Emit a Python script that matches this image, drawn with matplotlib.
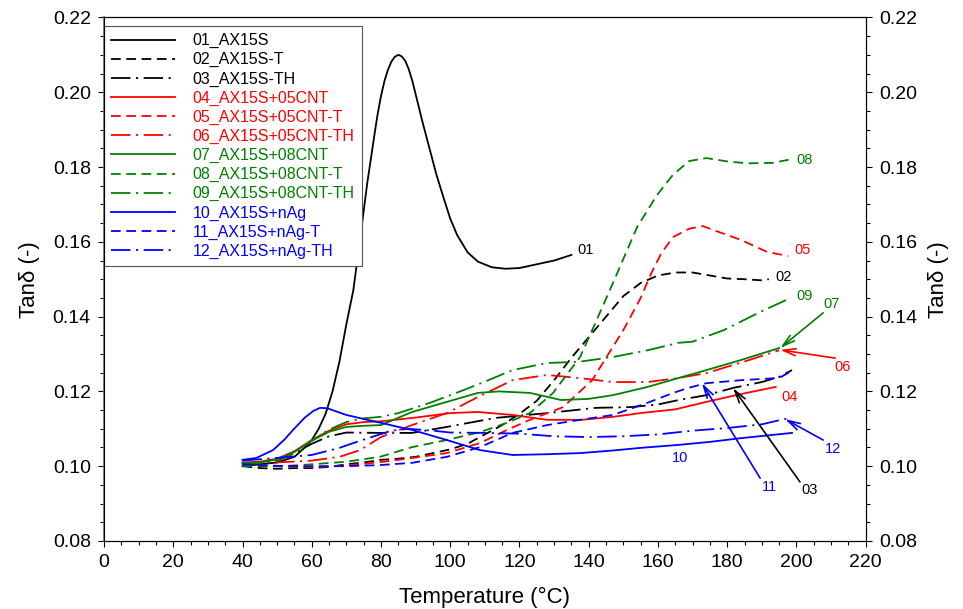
import numpy as np
import matplotlib
matplotlib.use('Agg')
import matplotlib.pyplot as plt

plt.rcParams['font.family'] = ['Liberation Sans', 'DejaVu Sans']
plt.rcParams['lines.scale_dashes'] = False

# ---- data (temperature in degC, tan delta) ----
x01 = [40, 45, 50, 55, 58, 60, 62, 64, 66, 68, 70, 72, 74, 76, 78, 79, 80, 81, 82, 83, 84, 85, 86, 87,
       88, 89, 90, 92, 94, 96, 98, 100, 102, 105, 108, 112, 116, 120, 125, 130, 135]
y01 = [0.1000, 0.1005, 0.1010, 0.1025, 0.1050, 0.1070, 0.1100, 0.1140, 0.1200, 0.1280, 0.1380, 0.1470,
       0.1610, 0.1755, 0.1880, 0.1940, 0.1990, 0.2030, 0.2060, 0.2082, 0.2095, 0.2100, 0.2096, 0.2084,
       0.2062, 0.2032, 0.1995, 0.1920, 0.1850, 0.1780, 0.1720, 0.1662, 0.1618, 0.1572, 0.1547, 0.1532,
       0.1528, 0.1530, 0.1540, 0.1550, 0.1565]

x02 = [40, 45, 50, 55, 60, 65, 70, 75, 80, 85, 90, 95, 100, 105, 110, 115, 120, 125, 130, 135, 140,
       145, 150, 155, 160, 165, 170, 175, 180, 185, 190, 192]
y02 = [0.1000, 0.0995, 0.0993, 0.0995, 0.0995, 0.0998, 0.1005, 0.1010, 0.1017, 0.1020, 0.1025, 0.1035,
       0.1045, 0.1060, 0.1085, 0.1110, 0.1140, 0.1175, 0.1230, 0.1290, 0.1345, 0.1400, 0.1455, 0.1490,
       0.1510, 0.1518, 0.1518, 0.1510, 0.1502, 0.1500, 0.1497, 0.1500]

x03 = [40, 45, 50, 55, 60, 65, 70, 80, 89, 99, 113, 128, 142, 152, 160, 166, 174, 182, 190, 195, 198.7]
y03 = [0.1005, 0.1008, 0.1015, 0.1035, 0.1060, 0.1080, 0.1090, 0.1089, 0.1089, 0.1105, 0.1129, 0.1142,
       0.1156, 0.1158, 0.1165, 0.1177, 0.1190, 0.1210, 0.1225, 0.1239, 0.1257]

x04 = [40, 45, 50, 55, 60, 65, 70, 75, 80, 90, 100, 108, 118, 128, 138, 147, 155, 165, 174, 184, 194]
y04 = [0.1010, 0.1012, 0.1020, 0.1040, 0.1070, 0.1095, 0.1112, 0.1118, 0.1120, 0.1130, 0.1142, 0.1145,
       0.1137, 0.1124, 0.1124, 0.1132, 0.1142, 0.1152, 0.1172, 0.1193, 0.1212]

x05 = [40, 45, 50, 55, 60, 65, 70, 80, 89, 99, 108.6, 116.4, 123, 132.6, 141, 145, 150, 155, 158, 161,
       164.4, 169, 173, 178, 184, 191.5, 197.6]
y05 = [0.1005, 0.1003, 0.1000, 0.0998, 0.0998, 0.0999, 0.1002, 0.1011, 0.1022, 0.1035, 0.1062, 0.1097,
       0.1124, 0.1158, 0.1230, 0.1290, 0.1364, 0.1450, 0.1515, 0.1570, 0.1613, 0.1635, 0.1642, 0.1625,
       0.1605, 0.1573, 0.1562]

x06 = [40, 50, 60, 68, 74, 80, 89, 99, 108, 118, 128, 137, 147, 157, 166, 174, 185, 195]
y06 = [0.1008, 0.1010, 0.1015, 0.1025, 0.1043, 0.1078, 0.1110, 0.1142, 0.1185, 0.1230, 0.1244, 0.1236,
       0.1225, 0.1225, 0.1236, 0.1249, 0.1280, 0.1310]

x07 = [40, 45, 50, 55, 60, 65, 70, 75, 80, 89, 99, 108, 114, 123, 132, 140, 147, 157, 166, 174, 184, 195]
y07 = [0.1008, 0.1010, 0.1018, 0.1038, 0.1068, 0.1092, 0.1105, 0.1108, 0.1110, 0.1145, 0.1172, 0.1196,
       0.1200, 0.1196, 0.1177, 0.1180, 0.1190, 0.1212, 0.1236, 0.1257, 0.1284, 0.1316]

x08 = [40, 45, 50, 55, 60, 70, 79.7, 89, 99, 108.6, 116.4, 123, 129.7, 137.5, 141, 147, 154, 159.7,
       164.4, 169, 174, 180, 186, 193, 198]
y08 = [0.1000, 0.1000, 0.1000, 0.1002, 0.1005, 0.1012, 0.1025, 0.1051, 0.1070, 0.1091, 0.1116, 0.1142,
       0.1196, 0.1292, 0.1364, 0.1490, 0.1640, 0.1725, 0.1780, 0.1816, 0.1824, 0.1815, 0.1810, 0.1811,
       0.1820]

x09 = [40, 45, 50, 55, 60, 65, 70, 75, 80, 85, 94, 104, 111, 118, 128, 137, 147, 157, 166, 170, 179,
       189, 197.6]
y09 = [0.1005, 0.1008, 0.1015, 0.1035, 0.1068, 0.1098, 0.1118, 0.1128, 0.1132, 0.1142, 0.1169, 0.1204,
       0.1230, 0.1257, 0.1276, 0.1279, 0.1292, 0.1310, 0.1330, 0.1333, 0.1364, 0.1410, 0.1447]

x10 = [40, 44, 48.8, 52, 54.6, 58, 60.5, 62.4, 64.5, 66, 70, 76, 80, 85, 89, 99, 108.6, 118, 128, 137.5,
       147, 155, 166, 175, 184, 198.7]
y10 = [0.1017, 0.1022, 0.1043, 0.1070, 0.1097, 0.1130, 0.1148, 0.1156, 0.1155, 0.1150, 0.1137, 0.1124,
       0.1116, 0.1105, 0.1097, 0.1070, 0.1043, 0.1030, 0.1032, 0.1035, 0.1042, 0.1049, 0.1057, 0.1065,
       0.1075, 0.1089]

x11 = [40, 45, 50, 60, 70, 79.7, 89, 99, 108.6, 118, 128, 137.5, 147, 156.8, 164.4, 169, 174, 184, 195,
       198.7]
y11 = [0.1005, 0.1003, 0.1001, 0.1000, 0.1000, 0.1003, 0.1009, 0.1025, 0.1051, 0.1089, 0.1110, 0.1124,
       0.1137, 0.1169, 0.1196, 0.1210, 0.1222, 0.1230, 0.1236, 0.1255]

x12 = [40, 50, 60, 68, 73, 78, 83, 88, 95, 100, 110, 120, 130, 140, 150, 160, 170, 180, 190, 196, 198.7]
y12 = [0.1015, 0.1022, 0.1030, 0.1049, 0.1065, 0.1080, 0.1095, 0.1100, 0.1095, 0.1090, 0.1089, 0.1087,
       0.1080, 0.1078, 0.1080, 0.1085, 0.1095, 0.1102, 0.1112, 0.1125, 0.1129]

labels = ['01_AX15S', '02_AX15S-T', '03_AX15S-TH',
          '04_AX15S+05CNT', '05_AX15S+05CNT-T', '06_AX15S+05CNT-TH',
          '07_AX15S+08CNT', '08_AX15S+08CNT-T', '09_AX15S+08CNT-TH',
          '10_AX15S+nAg', '11_AX15S+nAg-T', '12_AX15S+nAg-TH']
xs = [x01, x02, x03, x04, x05, x06, x07, x08, x09, x10, x11, x12]
ys = [y01, y02, y03, y04, y05, y06, y07, y08, y09, y10, y11, y12]

colors = ['black', '#ff0000', '#008000', '#0000ff']
dash_styles = ['-', (0, (7, 4)), (0, (14, 4, 1.5, 4))]

fig = plt.figure(figsize=(9.63, 6.09), dpi=100)
ax = fig.add_axes([0.108, 0.1117, 0.791, 0.8596])

for i in range(12):
    ax.plot(xs[i], ys[i], color=colors[i // 3], lw=1.3, linestyle=dash_styles[i % 3], label=labels[i])

ax.set_xlim(0, 220)
ax.set_ylim(0.08, 0.22)
ax.set_xticks(np.arange(0, 221, 20))
ax.set_xticks(np.arange(0, 221, 5), minor=True)
ax.set_yticks(np.arange(0.08, 0.2201, 0.02))
ax.set_yticks(np.arange(0.08, 0.2201, 0.005), minor=True)
ax.yaxis.set_major_formatter(plt.FormatStrFormatter('%.2f'))
ax.tick_params(which='major', direction='out', length=4.5, width=0.8, labelsize=14, pad=5)
ax.tick_params(which='minor', direction='out', length=3, width=0.8)
ax.set_xlabel('Temperature (°C)', fontsize=16, labelpad=11)
ax.set_ylabel('Tanδ (-)', fontsize=16, labelpad=9)
for s in ax.spines.values():
    s.set_linewidth(0.8)
ax.spines['left'].set_color('#777777')
ax.spines['left'].set_linewidth(1.3)

ax2 = ax.twinx()
ax2.set_ylim(ax.get_ylim())
ax2.set_yticks(np.arange(0.08, 0.2201, 0.02))
ax2.set_yticks(np.arange(0.08, 0.2201, 0.005), minor=True)
ax2.yaxis.set_major_formatter(plt.FormatStrFormatter('%.2f'))
ax2.tick_params(which='major', direction='out', length=4.5, width=0.8, labelsize=14, pad=5)
ax2.tick_params(which='minor', direction='out', length=3, width=0.8)
ax2.set_ylabel('Tanδ (-)', fontsize=16, labelpad=8)

leg = ax.legend(loc='upper left', bbox_to_anchor=(0.0, 1 - 8.5 / 523.5), borderaxespad=0,
                fontsize=11.5, labelcolor='linecolor', handlelength=4.0, handletextpad=1.1,
                labelspacing=0.25, borderpad=0.45, fancybox=False, framealpha=1)
leg.get_frame().set_edgecolor('#555555')
leg.get_frame().set_linewidth(0.8)

# curve tags, some with arrows
tags = [('01', 136.6, 0.1578, 'black'), ('02', 193.8, 0.1506, 'black'),
        ('08', 199.9, 0.1819, '#008000'), ('05', 199.3, 0.1578, '#ff0000'),
        ('09', 199.9, 0.1455, '#008000'), ('04', 195.6, 0.1185, '#ff0000'),
        ('10', 164.1, 0.1022, '#0000ff')]
for t, tx, ty, c in tags:
    ax.text(tx, ty, t, color=c, fontsize=10.5, ha='left', va='center')

arrows = [('07', 207.7, 0.1434, 207.7, 0.1410, 195.3, 0.1316, '#008000'),
          ('06', 210.9, 0.1265, 211.2, 0.1289, 195.3, 0.1311, '#ff0000'),
          ('12', 208.3, 0.1046, 207.7, 0.1070, 196.7, 0.1126, '#0000ff'),
          ('11', 190.1, 0.0944, 189.5, 0.0968, 172.7, 0.1222, '#0000ff'),
          ('03', 201.3, 0.0936, 201.0, 0.0958, 181.7, 0.1209, 'black')]
for t, tx, ty, x0, y0, x1, y1, c in arrows:
    ax.text(tx, ty, t, color=c, fontsize=10.5, ha='left', va='center')
    ax.annotate('', xy=(x1, y1), xytext=(x0, y0),
                arrowprops=dict(arrowstyle='->,head_length=0.9,head_width=0.25', color=c, lw=1.2,
                                shrinkA=0, shrinkB=0))

fig.savefig('out.png', dpi=100)
